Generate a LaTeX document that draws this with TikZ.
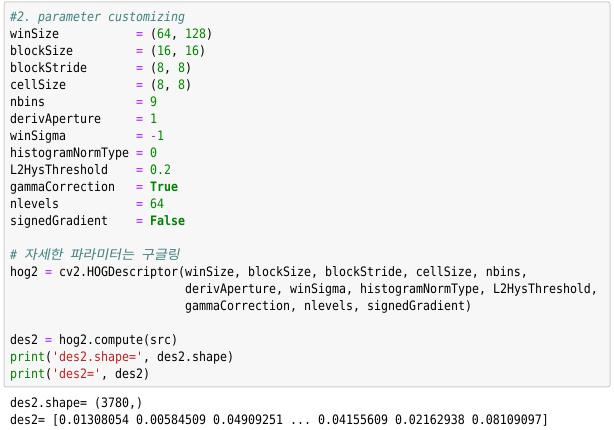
\documentclass[tikz,border=0pt]{standalone}
\usepackage{fontspec}
\setmonofont{DejaVu Sans Mono}[FakeStretch=0.894,
  ItalicFont={DejaVu Sans Mono Oblique}, BoldFont={DejaVu Sans Mono Bold}]
\newfontfamily\krfont{Noto Sans CJK KR}[FakeSlant=0.2, FakeStretch=1.077]
\definecolor{cmcomment}{HTML}{408080}
\definecolor{cmop}{HTML}{AA22FF}
\definecolor{cmnum}{HTML}{008800}
\definecolor{cmkw}{HTML}{008000}
\definecolor{cmstr}{HTML}{BA2121}
\definecolor{cellbg}{HTML}{F7F7F7}
\definecolor{cellline}{HTML}{CFCFCF}
\newcommand{\pyop}[1]{\textcolor{cmop}{#1}}
\newcommand{\pynum}[1]{\textcolor{cmnum}{#1}}
\newcommand{\pykw}[1]{\textcolor{cmkw}{\bfseries #1}}
\newcommand{\pystr}[1]{\textcolor{cmstr}{#1}}
\newcommand{\pybi}[1]{\textcolor{cmkw}{#1}}
\newcommand{\pycom}[1]{\textcolor{cmcomment}{\itshape #1}}
\begin{document}
\begin{tikzpicture}
      [x=1pt, y=-1pt,
       code/.style={anchor=base west, inner sep=0pt, font=\ttfamily\fontsize{13}{17}\selectfont},
       cellbox/.style={draw=cellline, fill=cellbg, line width=1pt, rounded corners=2pt}]
      \useasboundingbox (0,0) rectangle (614,430);
      \draw[cellbox] (4,2) rectangle (610,387);
      % input cell
      \node[code] (c0) at (10,21.5) {\pycom{\#2. parameter customizing}};
      \foreach \name/\val [count=\i] in {winSize/{(\pynum{64}, \pynum{128})},
          blockSize/{(\pynum{16}, \pynum{16})}, blockStride/{(\pynum{8}, \pynum{8})},
          cellSize/{(\pynum{8}, \pynum{8})}, nbins/{\pynum{9}}, derivAperture/{\pynum{1}},
          winSigma/{\pyop{-}\pynum{1}}, histogramNormType/{\pynum{0}},
          L2HysThreshold/{\pynum{0.2}}, gammaCorrection/{\pykw{True}},
          nlevels/{\pynum{64}}, signedGradient/{\pykw{False}}}
        {
        \node[code] (p\i) at (10,{21.5+17*\i}) {\name};
        \node[code] (v\i) at (136,{21.5+17*\i}) {\pyop{=} \val};
        }
      \node[code] (kr) at (10,259.5) {\pycom{\# {\krfont 자세한} {\krfont 파라미터는} {\krfont 구글링}}};
      \node[code] (hog) at (10,276.5) {hog2 \pyop{=} cv2.HOGDescriptor(winSize, blockSize, blockStride, cellSize, nbins,};
      \node[code] (hogb) at (185,293.5) {derivAperture, winSigma, histogramNormType, L2HysThreshold,};
      \node[code] (hogc) at (185,310.5) {gammaCorrection, nlevels, signedGradient)};
      \node[code] (des) at (10,344.5) {des2 \pyop{=} hog2.compute(src)};
      \node[code] (pra) at (10,361.5) {\pybi{print}(\pystr{'des2.shape='}, des2.shape)};
      \node[code] (prb) at (10,378.5) {\pybi{print}(\pystr{'des2='}, des2)};
      % output
      \node[code] (outa) at (10,408) {des2.shape= (3780,)};
      \node[code] (outb) at (10,425) {des2= [0.01308054 0.00584509 0.04909251 ... 0.04155609 0.02162938 0.08109097]};
\end{tikzpicture}
\end{document}
